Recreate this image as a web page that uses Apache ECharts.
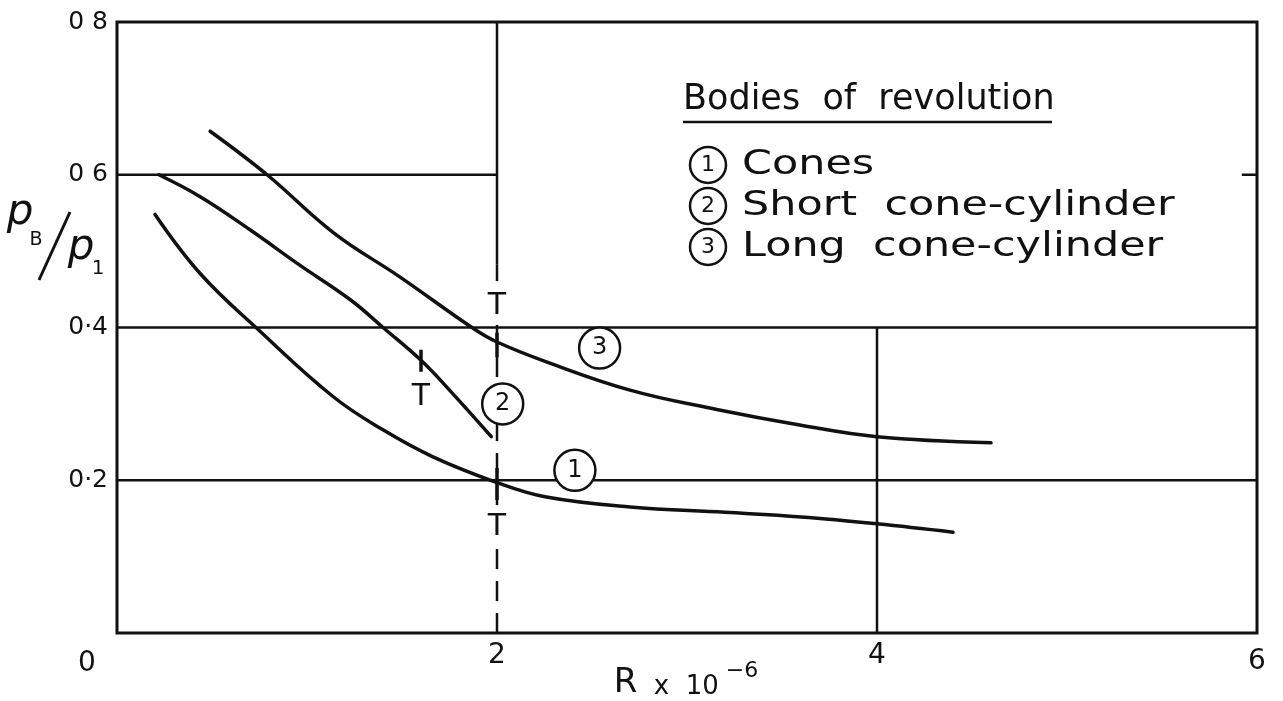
<!DOCTYPE html>
<html>
<head>
<meta charset="utf-8">
<title>Bodies of revolution – base pressure ratio</title>
<script src="https://cdn.jsdelivr.net/npm/echarts@6/dist/echarts.min.js"></script>
<style>
  html, body { margin: 0; padding: 0; background: #fff; }
  #chart { width: 1283px; height: 701px; }
</style>
</head>
<body>
<div id="chart"></div>
<script>
// ---- axis ticks -------------------------------------------------------
const xTicks = [0, 2, 4, 6];
const xTickText = ['0', '2', '4', '6'];
const yTicks = [0, 0.2, 0.4, 0.6, 0.8];
const yTickText = ['', '0·2', '0·4', '0 6', '0 8'];

// ---- curves: pB/p1 against R x 10^-6 ---------------------------------
// (1) Cones
const conesR = [0.20, 0.44, 0.74, 1.14, 1.40, 1.66, 2.00, 2.26, 2.70, 3.20, 3.60, 4.00, 4.40];
const conesP = [0.548, 0.470, 0.398, 0.309, 0.266, 0.231, 0.197, 0.178, 0.165, 0.158, 0.152, 0.143, 0.132];
// (2) Short cone-cylinder
const shortR = [0.22, 0.44, 0.70, 0.96, 1.23, 1.40, 1.60, 1.75, 1.97];
const shortP = [0.600, 0.571, 0.528, 0.482, 0.436, 0.400, 0.357, 0.318, 0.257];
// (3) Long cone-cylinder
const longR = [0.49, 0.79, 1.14, 1.49, 1.88, 2.00, 2.26, 2.70, 3.15, 3.60, 4.00, 4.60];
const longP = [0.657, 0.600, 0.524, 0.466, 0.398, 0.381, 0.355, 0.318, 0.293, 0.272, 0.257, 0.249];

// circled curve numbers
const tagR = [2.41, 2.03, 2.54];
const tagP = [0.213, 0.300, 0.373];
const tagText = ['1', '2', '3'];

// transition marks "T": short strokes across the curves and their letters
const transR = [2.0, 1.6, 2.0];
const transLo = [0.361, 0.342, 0.174];
const transHi = [0.393, 0.371, 0.216];
const transLabelP = [0.428, 0.309, 0.139];

// ruled grid segments [x1, y1, x2, y2]
const ruleSolid = [
  [0, 0.2, 6, 0.2],
  [0, 0.4, 6, 0.4],
  [0, 0.6, 2, 0.6],
  [5.92, 0.6, 6, 0.6],
  [4, 0, 4, 0.4],
  [2, 0.482, 2, 0.8]
];
const ruleDashed = [
  [2, 0, 2, 0.482]
];

// legend
const legendTitle = 'Bodies  of  revolution';
const legendNums = ['1', '2', '3'];
const legendNames = ['Cones', 'Short  cone-cylinder', 'Long  cone-cylinder'];

// ---- drawing ----------------------------------------------------------
const INK = '#111';
const FONT = '"DejaVu Sans", sans-serif';
const chart = echarts.init(document.getElementById('chart'), null, { renderer: 'canvas' });

function segment(seg, dashed) {
  return {
    type: 'line', silent: true, symbol: 'none', z: 2,
    data: [[seg[0], seg[1]], [seg[2], seg[3]]],
    lineStyle: { color: INK, width: 2.5, type: dashed ? [20, 12] : 'solid' }
  };
}
function curve(name, xs, ys) {
  return {
    type: 'line', name: name, silent: true, symbol: 'none', z: 5,
    smooth: 0.4,
    data: xs.map((x, i) => [x, ys[i]]),
    lineStyle: { color: INK, width: 3.5, cap: 'round' }
  };
}

const series = [];
ruleSolid.forEach(s => series.push(segment(s, false)));
ruleDashed.forEach(s => series.push(segment(s, true)));
series.push(curve('Cones', conesR, conesP));
series.push(curve('Short cone-cylinder', shortR, shortP));
series.push(curve('Long cone-cylinder', longR, longP));
transR.forEach((r, i) => {
  series.push({
    type: 'line', silent: true, symbol: 'none', z: 6,
    data: [[r, transLo[i]], [r, transHi[i]]],
    lineStyle: { color: INK, width: 3.5 }
  });
});
series.push({
  type: 'scatter', silent: true, z: 7,
  symbol: 'circle', symbolSize: 0.1,
  data: transR.map((r, i) => [r, transLabelP[i]]),
  itemStyle: { color: 'rgba(0,0,0,0)', opacity: 1 },
  label: {
    show: true, position: 'inside', formatter: 'T',
    color: INK, fontFamily: FONT, fontSize: 30,
    backgroundColor: '#fff', padding: [6, 2, 0, 2]
  }
});
series.push({
  type: 'scatter', silent: true, z: 8,
  symbol: 'circle', symbolSize: 41,
  data: tagR.map((r, i) => [r, tagP[i], tagText[i]]),
  itemStyle: { color: '#fff', borderColor: INK, borderWidth: 2.5, opacity: 1 },
  label: {
    show: true, position: 'inside',
    formatter: p => p.data[2],
    color: INK, fontFamily: FONT, fontSize: 24
  }
});

// legend block drawn as graphics
const legendGraphics = [
  {
    type: 'text', x: 683, y: 100,
    style: { text: legendTitle, font: '35px ' + FONT, fill: INK, align: 'left', verticalAlign: 'middle' }
  },
  {
    type: 'line', shape: { x1: 683, y1: 122, x2: 1052, y2: 122 },
    style: { stroke: INK, lineWidth: 2.5 }
  }
];
legendNums.forEach((n, i) => {
  const cy = 165 + i * 41;
  legendGraphics.push({
    type: 'circle', shape: { cx: 708, cy: cy, r: 18 },
    style: { fill: '#fff', stroke: INK, lineWidth: 2.5 }
  });
  legendGraphics.push({
    type: 'text', x: 708, y: cy,
    style: { text: n, font: '22px ' + FONT, fill: INK, align: 'center', verticalAlign: 'middle' }
  });
  // slightly widened lettering
  legendGraphics.push({
    type: 'text', x: 742, y: cy, scaleX: 1.3, scaleY: 1,
    style: { x: 0, y: 0, text: legendNames[i], font: '33px ' + FONT, fill: INK, align: 'left', verticalAlign: 'middle' }
  });
});

// y-axis title pB / p1
const yTitle = [
  { type: 'text', x: 20, y: 213, style: { text: 'p', font: 'italic 42px ' + FONT, fill: INK, align: 'center', verticalAlign: 'middle' } },
  { type: 'text', x: 36, y: 240, style: { text: 'B', font: '19px ' + FONT, fill: INK, align: 'center', verticalAlign: 'middle' } },
  { type: 'line', shape: { x1: 39, y1: 280, x2: 70, y2: 212 }, style: { stroke: INK, lineWidth: 3 } },
  { type: 'text', x: 81, y: 248, style: { text: 'p', font: 'italic 42px ' + FONT, fill: INK, align: 'center', verticalAlign: 'middle' } },
  { type: 'text', x: 98, y: 269, style: { text: '1', font: '20px ' + FONT, fill: INK, align: 'center', verticalAlign: 'middle' } }
];

// x-axis title R x 10^-6
const xTitle = [{
  type: 'text', x: 686, y: 680,
  style: {
    text: '{r|R}{t|  x  10}{s| −6}',
    align: 'center', verticalAlign: 'middle',
    rich: {
      r: { font: '34px ' + FONT, fill: INK, verticalAlign: 'bottom', lineHeight: 40 },
      t: { font: '26px ' + FONT, fill: INK, verticalAlign: 'bottom', lineHeight: 40 },
      s: { font: '22px ' + FONT, fill: INK, verticalAlign: 'top', lineHeight: 40 }
    }
  }
}];

const option = {
  backgroundColor: '#fff',
  animation: false,
  grid: {
    left: 117, right: 26, top: 22, bottom: 68,
    show: true, borderColor: INK, borderWidth: 3,
    outerBoundsMode: 'none'
  },
  xAxis: {
    type: 'value', min: xTicks[0], max: xTicks[xTicks.length - 1], interval: 2,
    axisLine: { show: false }, axisTick: { show: false }, splitLine: { show: false },
    axisLabel: {
      margin: 9, color: INK, fontFamily: FONT, fontSize: 28,
      formatter: v => {
        const i = xTicks.indexOf(v);
        const t = i >= 0 ? xTickText[i] : '';
        if (i === 0) return '{z|' + t + '}';
        if (i === xTicks.length - 1) return '{e|' + t + '}';
        return t;
      },
      rich: {
        z: { fontFamily: FONT, fontSize: 28, color: INK, padding: [8, 60, 0, 0] },
        e: { fontFamily: FONT, fontSize: 28, color: INK, padding: [6, 0, 0, 0] }
      }
    }
  },
  yAxis: {
    type: 'value', min: yTicks[0], max: yTicks[yTicks.length - 1], interval: 0.2,
    axisLine: { show: false }, axisTick: { show: false }, splitLine: { show: false },
    axisLabel: {
      margin: 9, color: INK, fontFamily: FONT, fontSize: 25,
      formatter: v => {
        const i = yTicks.findIndex(t => Math.abs(t - v) < 1e-9);
        return i >= 0 ? yTickText[i] : '';
      }
    }
  },
  graphic: legendGraphics.concat(yTitle, xTitle),
  series: series
};

chart.setOption(option);
</script>
</body>
</html>
